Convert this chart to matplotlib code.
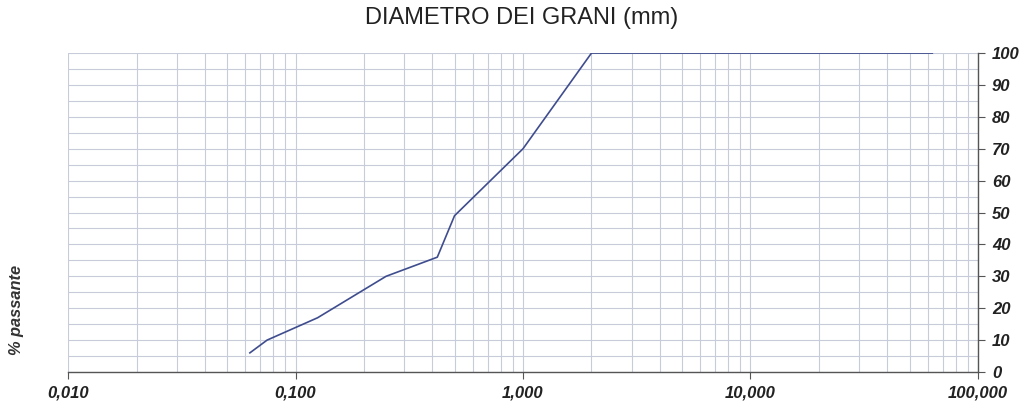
import matplotlib
matplotlib.use("Agg")
import matplotlib.pyplot as plt
from matplotlib.ticker import FixedLocator, LogLocator, NullFormatter

# Granulometric curve data
diam_mm = [0.063, 0.075, 0.125, 0.25, 0.42, 0.50, 1.0, 2.0, 63.0]
passante = [6, 10, 17, 30, 36, 49, 70, 100, 100]

x_ticks = [0.01, 0.1, 1, 10, 100]
x_labels = ["0,010", "0,100", "1,000", "10,000", "100,000"]
y_ticks = list(range(0, 101, 10))

plt.rcParams['font.family'] = ['Liberation Sans', 'DejaVu Sans']

fig = plt.figure(figsize=(10.23, 4.05), dpi=100)
ax = fig.add_axes([0.0665, 0.0815, 0.8895, 0.7875])

ax.plot(diam_mm, passante, color='#3f4d8e', linewidth=1.2)

ax.set_xscale('log')
ax.set_xlim(0.01, 100)
ax.set_ylim(0, 100)

# grid
grid_col = '#c8ccda'
ax.xaxis.set_major_locator(FixedLocator(x_ticks))
ax.xaxis.set_minor_locator(LogLocator(base=10, subs=range(2, 10)))
ax.xaxis.set_minor_formatter(NullFormatter())
ax.set_yticks(y_ticks)
ax.yaxis.set_minor_locator(FixedLocator(range(5, 100, 10)))
ax.grid(which='both', color=grid_col, linewidth=0.8)
ax.set_axisbelow(True)

for s in ['top', 'left']:
    ax.spines[s].set_visible(False)
for s in ['bottom', 'right']:
    ax.spines[s].set_color('#555555')
    ax.spines[s].set_linewidth(1.0)

ax.set_xticklabels(x_labels, fontsize=12, fontweight='bold', fontstyle='italic', color='#222222')
ax.tick_params(axis='x', which='major', length=5, color='#555555', pad=5)
ax.tick_params(axis='x', which='minor', length=0)

ax.yaxis.tick_right()
ax.set_yticklabels([str(v) for v in y_ticks], fontsize=12, fontweight='bold', fontstyle='italic', color='#222222')
ax.tick_params(axis='y', which='major', length=5, color='#555555', pad=5)
ax.tick_params(axis='y', which='minor', length=0)

fig.text(0.51, 0.955, "DIAMETRO DEI GRANI (mm)", ha='center', va='center', fontsize=17, color='#222222')
fig.text(0.016, 0.235, "% passante", rotation=90, ha='center', va='center',
         fontsize=11.8, fontweight='bold', fontstyle='italic', color='#333333')

fig.savefig("out.png", dpi=100)
